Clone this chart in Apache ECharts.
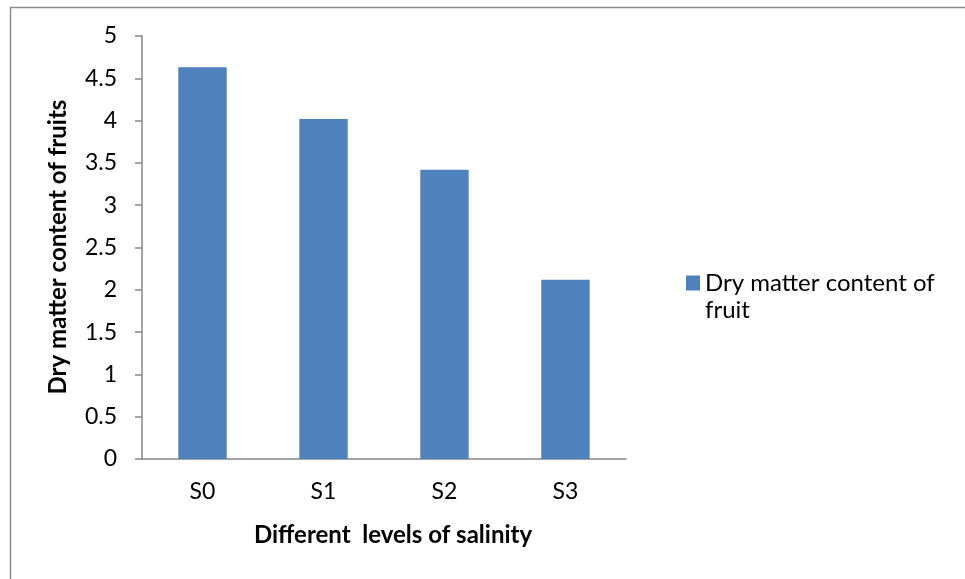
<!DOCTYPE html>
<html>
<head>
<meta charset="utf-8">
<style>
  html, body { margin: 0; padding: 0; background: #fff; }
  #chart { width: 965px; height: 579px; }
</style>
<script src="https://cdn.jsdelivr.net/npm/echarts@6/dist/echarts.min.js"></script>
</head>
<body>
<div id="chart"></div>
<script>
// Salinity treatments and measured dry matter content
const categories = ['S0', 'S1', 'S2', 'S3'];
const dryMatter = [4.63, 4.02, 3.42, 2.12];
const seriesName = 'Dry matter content of fruit';
const yTicks = { min: 0, max: 5, step: 0.5 };

const FONT = 'Lato';
const chart = echarts.init(document.getElementById('chart'), null, { renderer: 'canvas' });

chart.setOption({
  backgroundColor: '#ffffff',
  animation: false,
  textStyle: { fontFamily: FONT, color: '#000' },
  grid: { left: 142, top: 36, right: 339, bottom: 120, containLabel: false },
  legend: {
    left: 686, top: 271, padding: 0,
    itemWidth: 14, itemHeight: 15, itemGap: 8,
    icon: 'rect',
    formatter: () => 'Dry matter content of',
    textStyle: { fontFamily: FONT, fontSize: 24, color: '#000' }
  },
  xAxis: {
    type: 'category',
    data: categories,
    axisLine: { lineStyle: { color: '#868686', width: 1.5 } },
    axisTick: { show: false },
    axisLabel: { fontSize: 23, color: '#000', margin: 21, fontFamily: FONT }
  },
  yAxis: {
    type: 'value',
    min: yTicks.min, max: yTicks.max, interval: yTicks.step,
    splitLine: { show: false },
    axisLine: { show: true, lineStyle: { color: '#868686', width: 1.5 } },
    axisTick: { show: true, length: 7, lineStyle: { color: '#868686', width: 1.5 } },
    axisLabel: { fontSize: 23, color: '#000', margin: 25, fontFamily: FONT }
  },
  series: [{
    name: seriesName,
    type: 'bar',
    data: dryMatter,
    barWidth: '40%',
    itemStyle: { color: '#4F81BD' }
  }],
  graphic: [
    {
      type: 'rect',
      shape: { x: 10.5, y: 7.5, width: 980, height: 620 },
      style: { fill: 'none', stroke: '#8c8c8c', lineWidth: 1.5 },
      silent: true, z: -1
    },
    {
      type: 'text',
      x: 705, y: 310,
      style: { text: 'fruit', fontFamily: FONT, fontSize: 24, fill: '#000', verticalAlign: 'middle' }
    },
    {
      type: 'text',
      x: 393, y: 535,
      style: {
        text: 'Different  levels of salinity',
        fontFamily: FONT, fontSize: 24, fontWeight: 'bold', fill: '#000',
        align: 'center', verticalAlign: 'middle'
      }
    },
    {
      type: 'text',
      x: 58, y: 247, rotation: Math.PI / 2,
      style: {
        text: 'Dry matter content of fruits',
        fontFamily: FONT, fontSize: 24, fontWeight: 'bold', fill: '#000',
        align: 'center', verticalAlign: 'middle'
      }
    }
  ]
});
</script>
</body>
</html>
